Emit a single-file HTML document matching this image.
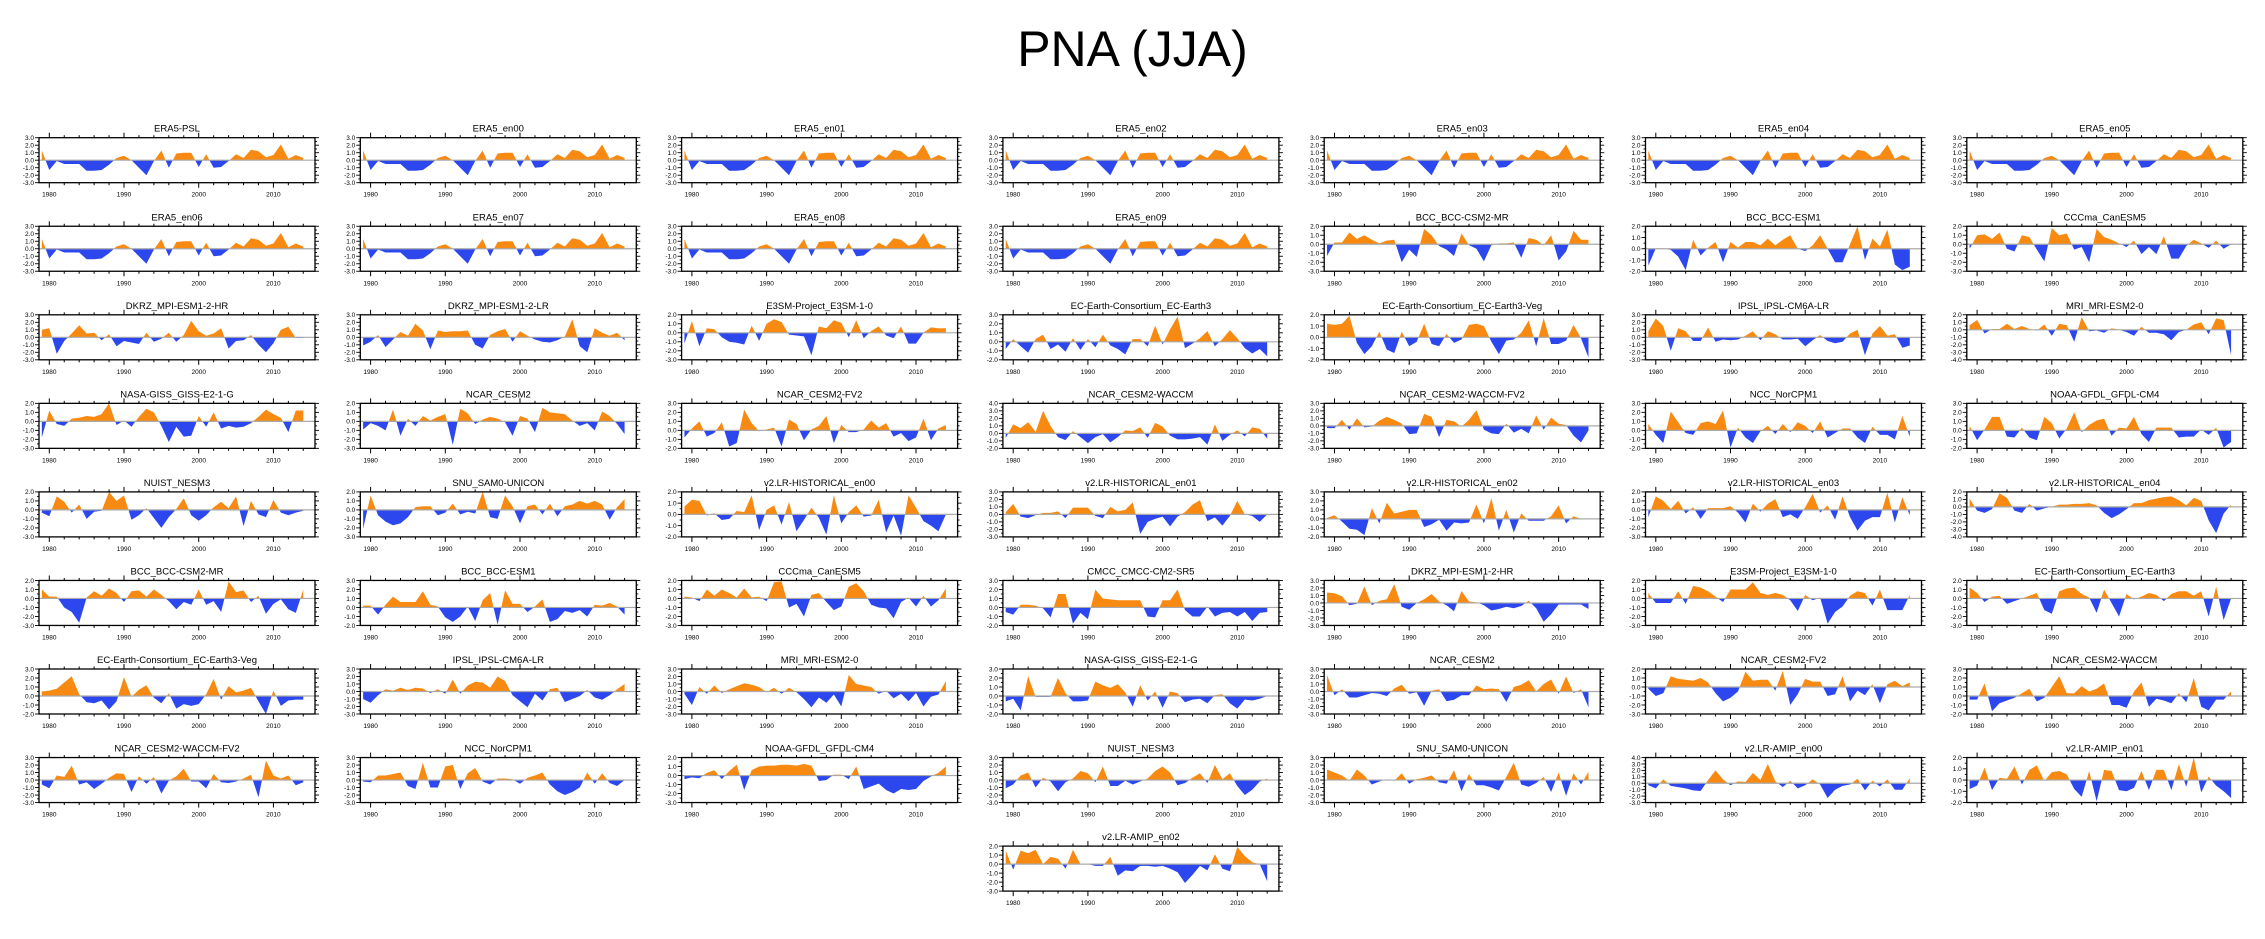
<!DOCTYPE html>
<html><head><meta charset="utf-8"><title>PNA (JJA)</title>
<style>
html,body{margin:0;padding:0;background:#fff;}
body{width:2265px;height:939px;overflow:hidden;position:relative;font-family:"Liberation Sans",sans-serif;}
#main-title{position:absolute;left:0;top:20px;width:2265px;text-align:center;font-size:50px;color:#000;}
svg{position:absolute;left:0;top:0;}
</style></head>
<body>
<div id="main-title">PNA (JJA)</div>
<svg id="chart" width="2265" height="939"></svg>
<script>
const years = [1979,1980,1981,1982,1983,1984,1985,1986,1987,1988,1989,1990,1991,1992,1993,1994,1995,1996,1997,1998,1999,2000,2001,2002,2003,2004,2005,2006,2007,2008,2009,2010,2011,2012,2013,2014];
const xTickYears = [1980,1990,2000,2010];
const titles = ["ERA5-PSL","ERA5_en00","ERA5_en01","ERA5_en02","ERA5_en03","ERA5_en04","ERA5_en05",
"ERA5_en06","ERA5_en07","ERA5_en08","ERA5_en09","BCC_BCC-CSM2-MR","BCC_BCC-ESM1","CCCma_CanESM5",
"DKRZ_MPI-ESM1-2-HR","DKRZ_MPI-ESM1-2-LR","E3SM-Project_E3SM-1-0","EC-Earth-Consortium_EC-Earth3","EC-Earth-Consortium_EC-Earth3-Veg","IPSL_IPSL-CM6A-LR","MRI_MRI-ESM2-0",
"NASA-GISS_GISS-E2-1-G","NCAR_CESM2","NCAR_CESM2-FV2","NCAR_CESM2-WACCM","NCAR_CESM2-WACCM-FV2","NCC_NorCPM1","NOAA-GFDL_GFDL-CM4",
"NUIST_NESM3","SNU_SAM0-UNICON","v2.LR-HISTORICAL_en00","v2.LR-HISTORICAL_en01","v2.LR-HISTORICAL_en02","v2.LR-HISTORICAL_en03","v2.LR-HISTORICAL_en04",
"BCC_BCC-CSM2-MR","BCC_BCC-ESM1","CCCma_CanESM5","CMCC_CMCC-CM2-SR5","DKRZ_MPI-ESM1-2-HR","E3SM-Project_E3SM-1-0","EC-Earth-Consortium_EC-Earth3",
"EC-Earth-Consortium_EC-Earth3-Veg","IPSL_IPSL-CM6A-LR","MRI_MRI-ESM2-0","NASA-GISS_GISS-E2-1-G","NCAR_CESM2","NCAR_CESM2-FV2","NCAR_CESM2-WACCM",
"NCAR_CESM2-WACCM-FV2","NCC_NorCPM1","NOAA-GFDL_GFDL-CM4","NUIST_NESM3","SNU_SAM0-UNICON","v2.LR-AMIP_en00","v2.LR-AMIP_en01",
"v2.LR-AMIP_en02"];
const yMax = [3,3,3,3,3,3,3, 3,3,3,3,2,2,2, 3,3,2,3,2,3,2, 2,2,3,4,3,3,3, 2,2,2,3,3,2,2, 2,3,2,3,3,2,2, 3,3,3,3,3,2,3, 3,3,2,3,3,4,2, 2];
const yMin = [-3,-3,-3,-3,-3,-3,-3, -3,-3,-3,-3,-3,-2,-3, -3,-3,-3,-2,-2,-3,-4, -3,-3,-2,-2,-3,-2,-2, -3,-3,-2,-3,-2,-3,-4, -3,-2,-3,-2,-3,-3,-3, -2,-3,-3,-2,-3,-3,-2, -3,-3,-3,-3,-3,-3,-2, -3];
const era5 = [1.3,-1.3,-0.1,-0.5,-0.5,-0.5,-1.4,-1.4,-1.3,-0.6,0.3,0.6,0.0,-1.0,-2.0,-0.1,1.3,-1.0,0.9,1.0,1.0,-0.9,0.8,-1.0,-0.9,-0.1,0.8,0.3,1.4,1.2,0.4,0.7,2.1,0.2,0.7,0.3];
const series = [
era5,era5,era5,era5,era5,era5,era5,era5,era5,era5,era5,
[-1.3,0.2,0.2,1.3,0.6,1.0,0.5,0.1,0.4,0.5,-2.0,-0.6,-1.4,1.7,1.0,-0.2,-0.6,-1.3,1.2,-0.1,-0.5,-1.9,-0.1,0.1,0.1,0.2,-1.5,0.7,0.5,-0.1,1.0,-1.8,-0.8,1.5,0.5,0.5],
[-1.5,0.05,0.05,-0.1,-0.7,-1.9,0.8,-0.6,0.1,0.6,-1.2,0.6,0.1,0.6,0.6,0.3,0.9,0.3,0.8,1.2,0.0,-0.2,0.3,1.2,0.0,-1.2,-1.2,0.4,2.0,-1.0,0.9,0.2,1.7,-1.4,-1.9,-1.6],
[-0.5,1.0,1.1,0.6,1.3,-0.5,-0.8,1.0,0.8,-0.6,-1.9,1.8,1.0,1.2,-0.6,-0.3,-2.0,1.7,0.8,0.5,0.1,-0.3,0.4,-1.1,-0.3,-1.1,0.9,-1.6,-1.6,-0.2,0.5,0.1,-0.4,0.4,-0.5,0.0],
[1.0,1.2,-2.2,-0.5,0.5,1.6,0.5,0.6,-0.4,0.4,-1.2,-0.5,-0.7,-0.9,0.6,-0.6,-0.2,0.6,-0.6,0.3,2.2,0.8,0.2,0.5,1.2,-1.5,-0.5,-0.4,0.3,-1.0,-2.0,-0.8,1.0,1.4,-0.1,-0.1],
[-1.1,-0.6,0.3,-1.3,-0.3,0.7,0.2,1.8,0.9,-1.6,0.9,0.7,0.8,0.8,0.9,-1.0,-1.5,0.3,0.8,1.1,-0.6,0.8,0.2,-0.3,-0.6,-0.7,-0.4,0.1,2.4,-1.2,-2.0,1.2,0.6,0.2,0.6,-0.4],
[-1.2,1.3,-1.5,0.5,0.4,-0.5,-1.0,-1.1,-1.3,0.8,-0.9,1.0,1.5,1.2,-0.2,-0.3,-0.4,-2.5,0.7,0.5,1.4,1.1,-0.5,1.4,-0.6,0.2,0.7,-0.3,-0.6,0.7,-1.2,-1.2,0.0,0.6,0.5,0.5],
[-0.8,0.3,-0.5,-1.2,0.3,0.8,-0.8,-0.3,-1.1,0.4,-0.9,0.3,-0.6,0.8,-0.4,-0.8,-1.4,0.3,0.3,-0.5,1.8,-0.3,1.4,2.8,-0.7,-0.2,0.4,1.2,-0.5,0.3,1.3,0.4,-0.7,-1.3,-0.8,-1.6],
[1.2,1.1,1.2,1.9,-0.5,-1.5,-0.8,0.5,-1.1,-1.4,0.5,-0.8,-0.4,1.2,-0.6,-0.8,0.3,-0.5,-0.2,1.1,1.2,1.0,-0.4,-1.5,-0.3,-0.2,0.4,1.5,-0.8,1.7,-0.6,-0.6,-0.3,1.1,-0.1,-1.8],
[0.8,2.5,1.5,-1.8,1.2,0.8,-0.5,-0.5,1.3,-0.6,-0.3,-0.4,-0.3,0.2,0.8,-0.4,0.8,0.4,-0.3,-0.3,-0.2,-1.2,-0.4,0.3,-0.5,-0.8,-0.6,0.5,1.0,-2.4,0.5,1.5,0.2,0.4,-1.4,-1.1],
[0.6,1.3,-0.5,0.1,0.1,0.8,0.1,0.5,0.1,-0.1,0.7,-0.8,0.8,0.6,-1.6,1.7,-0.2,-0.1,-0.4,0.2,0.0,-0.3,-0.8,0.4,-0.4,-0.4,-0.6,-1.4,-0.3,0.0,0.7,1.0,-0.6,1.5,1.3,-3.4],
[-1.8,1.2,-0.3,-0.5,0.3,0.4,0.6,0.5,0.8,2.0,-0.4,0.1,-0.6,0.5,1.4,1.0,-0.5,-2.3,-0.6,-1.7,-1.6,0.6,-0.6,1.0,-0.8,-0.5,-0.7,-0.6,-0.2,0.5,1.3,0.8,0.4,-1.2,1.2,1.2],
[-0.9,-0.2,-0.5,-1.0,1.3,-1.6,0.3,-0.5,0.6,0.1,0.5,0.8,-2.6,1.4,0.9,-0.3,0.2,0.5,0.3,-0.1,-1.6,0.6,0.3,-1.2,1.5,1.0,0.9,0.8,0.1,-0.5,-0.2,-1.0,1.1,0.6,-0.3,-1.4],
[-0.8,0.2,1.0,-0.7,-0.3,0.9,-1.8,-1.4,2.3,0.8,-0.1,0.1,0.3,-1.8,1.2,0.7,-1.1,0.1,0.5,1.6,-1.4,0.6,-0.2,-0.2,0.1,1.1,0.3,0.8,-0.7,-0.3,-1.2,-0.8,1.3,-1.1,0.2,0.6],
[-0.6,1.2,0.7,1.5,0.2,3.0,1.0,-0.5,-0.9,0.3,-0.5,-1.3,-0.5,-0.1,-1.2,-0.5,0.4,0.3,0.8,-0.6,1.4,0.9,-0.3,-0.8,-0.8,-0.7,-0.5,-1.5,1.2,-1.0,-0.2,0.4,-0.4,0.8,0.6,-0.7],
[-0.3,-0.3,0.8,-0.5,1.0,-0.2,-0.1,0.7,1.2,0.8,0.3,-1.1,-1.0,1.6,1.2,-1.5,0.8,0.6,-0.1,0.8,2.1,-0.5,-1.0,-1.1,0.3,-0.9,-0.4,-1.0,1.4,-0.5,1.1,0.3,0.1,-1.3,-2.2,-0.6],
[0.7,-0.5,-1.4,2.1,0.9,-0.3,-0.5,0.8,1.0,0.7,2.2,-1.9,0.3,-0.8,-1.4,-0.1,0.5,-0.4,0.7,-0.2,0.9,0.5,-0.3,1.0,-0.8,-0.3,0.2,0.2,-0.8,-1.4,0.4,-0.5,-0.5,-1.0,1.6,-0.7],
[0.5,-1.1,0.1,1.5,1.5,-0.7,-0.8,0.3,-0.8,-1.1,1.5,0.8,-0.9,0.2,2.0,-0.2,0.6,1.1,1.3,-0.6,0.3,0.2,1.5,-0.4,-1.3,0.3,0.3,0.3,-0.8,-0.7,-0.7,0.1,-0.5,0.3,-1.9,-1.3],
[-0.3,-0.7,1.5,0.9,-0.3,0.6,-1.0,-0.2,-0.1,2.0,1.0,1.6,-1.1,-0.6,0.2,-0.9,-2.0,-0.8,0.1,1.3,-0.6,-1.2,-0.6,0.3,0.9,0.2,1.5,-1.8,1.0,-0.5,-0.8,1.1,-0.3,-0.6,-0.3,-0.1],
[-2.1,1.6,-0.6,-1.3,-1.7,-1.5,-0.8,0.3,0.4,0.4,-0.6,-0.3,0.7,-0.5,-0.2,-0.4,2.0,-0.8,-1.0,1.6,0.4,-1.5,0.4,0.6,-0.5,0.7,-0.7,0.4,0.6,1.0,0.7,1.0,0.6,-1.1,0.3,1.2],
[0.7,1.3,1.2,-0.1,0.1,-0.5,-0.4,0.3,0.2,1.7,-1.4,0.4,0.8,-0.9,1.1,-1.5,-0.5,0.6,-0.3,-1.8,1.7,-0.8,0.2,0.8,-0.2,-0.1,1.3,-1.6,-0.1,-1.9,1.7,0.6,-0.6,-1.0,-1.5,0.0],
[0.3,1.4,-0.3,-0.5,-0.1,0.2,0.2,0.4,-0.5,0.9,0.9,0.9,-0.2,-0.5,1.0,0.4,0.6,1.6,-2.6,-1.0,-0.6,-0.3,-1.6,-0.3,0.3,1.3,1.9,-0.9,-0.4,-1.5,-0.2,1.8,0.0,-0.2,-1.0,0.0],
[0.1,0.4,-0.3,-1.1,-1.2,-1.8,1.2,-0.5,1.8,0.6,0.8,1.0,1.0,-0.9,-0.6,-0.1,-1.3,-0.4,-0.5,-0.4,1.6,-0.5,2.3,-1.3,1.0,-1.5,0.6,-0.2,-0.2,-0.2,0.3,1.5,-0.5,0.3,0.0,0.0],
[-0.8,1.5,1.0,0.1,1.0,-0.4,0.3,-1.0,0.2,0.2,0.2,0.4,-0.3,-1.4,0.7,-0.2,0.7,1.2,-0.8,-0.5,-1.0,0.3,1.8,-0.3,0.5,-1.1,1.5,-0.8,-2.3,-1.2,-0.8,-0.8,1.9,-1.4,1.4,-0.6],
[1.1,-0.5,-0.8,-0.3,1.8,1.2,-0.5,-0.8,0.4,-0.5,-0.2,0.0,0.3,0.3,0.4,0.4,0.5,0.2,-0.8,-1.5,-1.0,-0.3,0.5,0.5,0.9,1.1,1.3,1.4,0.9,0.2,1.2,0.8,-1.8,-3.5,-0.9,0.3],
[1.0,0.2,0.2,-1.0,-1.5,-2.7,0.1,0.8,0.3,1.1,0.6,-0.4,0.8,0.9,0.2,1.0,0.4,-0.3,-1.2,-0.4,-0.7,1.0,-0.7,-0.3,-1.5,1.9,0.7,0.9,-0.4,0.3,-1.7,-0.6,-0.1,-1.2,-1.6,1.0],
[0.2,0.2,-0.8,0.3,1.2,0.6,0.6,0.6,1.8,0.3,0.1,-1.1,-1.6,-1.0,0.1,-1.5,0.8,1.6,-1.9,1.9,0.4,0.4,-0.5,0.1,0.9,-1.6,-1.3,-0.4,-0.6,-0.3,-1.0,0.3,0.2,0.5,0.1,-0.8],
[0.2,0.1,-0.3,1.0,0.3,1.0,0.6,0.1,1.1,0.1,0.2,-0.3,1.8,1.9,-1.0,-0.6,-2.0,0.4,0.6,-0.4,-1.3,-0.9,1.3,1.7,0.8,-0.7,-1.0,-1.1,-2.2,-0.4,0.1,-0.9,0.3,-0.9,-0.2,1.1],
[-0.5,-0.8,0.3,0.3,0.2,-0.1,-1.1,1.5,1.5,-1.8,-0.6,-1.3,2.0,1.0,0.9,0.8,0.8,0.8,0.8,-1.0,-1.1,0.8,0.8,2.0,-0.3,-1.0,-1.0,0.1,-1.0,-0.6,-0.5,-1.0,-0.5,-1.5,-0.6,-0.5],
[1.4,1.3,0.9,-0.3,-0.1,2.2,-0.3,0.3,0.5,2.5,-0.5,-0.9,0.0,0.5,1.2,0.2,-0.3,-1.1,1.6,0.2,0.1,-0.3,-1.0,-0.8,-0.5,-0.7,-0.4,0.3,-0.7,-2.5,-1.5,-0.2,-0.2,-0.2,-0.2,-0.8],
[0.6,-0.5,-0.5,-0.5,0.8,-0.6,1.4,1.2,0.8,0.2,-0.4,1.0,1.0,1.0,1.8,0.6,0.4,0.6,0.4,-0.2,-1.4,0.4,-0.2,0.1,-2.8,-1.5,-0.9,0.3,0.8,0.6,-0.8,1.0,-1.3,-1.3,-1.3,0.4],
[1.2,0.6,-0.4,0.2,0.3,-0.6,-0.3,0.0,0.3,0.6,-1.3,-1.7,0.8,1.1,1.2,0.5,0.1,-1.6,1.0,-0.5,-2.0,0.5,-0.1,0.2,0.6,0.4,-0.3,0.5,0.8,0.8,0.3,0.8,-2.0,1.3,-2.4,0.0],
[0.5,0.6,0.8,1.5,2.2,0.2,-0.7,-0.8,-0.5,-1.5,-0.6,2.1,-0.1,0.7,1.2,-0.2,-0.8,0.3,-1.4,-0.9,-1.1,-0.9,0.2,1.9,-0.4,1.1,0.4,0.6,0.9,-0.6,-2.0,0.6,-1.1,-0.5,-0.4,-0.4],
[-1.0,-1.5,-0.5,0.3,0.1,0.5,0.2,0.5,0.4,-0.2,0.3,-0.3,1.6,-0.3,0.8,1.3,1.2,0.5,2.0,1.4,-0.5,-1.3,-2.1,-0.3,-1.2,0.3,0.5,-1.4,-1.0,-0.6,0.2,-0.8,-1.1,-0.5,0.3,1.0],
[-0.3,-1.8,0.6,-0.3,0.8,-0.2,0.3,0.7,1.1,0.9,0.6,-0.1,0.5,-0.3,0.5,-0.1,-1.0,-2.1,-0.8,-1.5,-0.4,-2.0,2.2,1.0,0.8,0.6,-0.3,0.1,-0.9,-0.3,-1.3,-0.2,-2.0,-0.7,-0.4,1.4],
[-0.6,-0.3,-1.6,2.2,-0.1,-0.1,-0.1,2.0,0.3,-0.6,-0.6,-0.5,1.6,1.2,0.9,1.3,0.4,-1.2,1.2,-0.5,0.5,-1.3,0.5,0.3,-0.7,-0.4,-0.3,-0.8,0.1,0.2,-0.8,-1.4,-0.4,-0.5,-0.3,0.0],
[2.2,-0.5,0.3,-0.8,-0.8,-0.5,-0.2,-0.3,-0.6,0.4,0.9,-0.3,-0.1,-1.9,0.1,0.3,-1.3,-1.1,-0.5,-0.5,0.8,0.3,0.4,0.3,-1.4,0.6,0.9,1.5,0.0,1.0,1.6,-0.3,2.0,-0.2,0.3,-2.1],
[-0.2,-1.0,-0.7,1.2,0.9,0.8,0.7,1.0,0.5,-0.7,-1.6,-1.2,-0.5,1.7,0.7,0.8,0.8,-0.4,1.8,-2.0,-0.8,0.9,0.6,0.6,-1.0,-0.8,1.2,-1.6,-0.4,-0.9,0.3,-1.8,0.3,0.7,0.1,0.5],
[-0.4,-0.4,1.4,-1.7,-0.8,-0.5,-0.2,0.3,0.8,-0.6,-0.2,1.0,2.2,0.3,0.3,1.1,0.5,0.8,1.4,-1.0,-1.0,-1.3,0.5,1.5,-1.2,-0.3,-0.5,-0.8,0.3,-0.7,2.0,-1.2,-1.6,-0.4,-0.4,0.5],
[-0.6,-1.1,0.6,0.4,1.9,-0.6,-0.3,-1.2,-0.5,0.3,0.9,0.8,-1.6,0.5,-0.5,0.4,-1.8,-0.1,0.5,1.5,-0.2,-0.2,-1.1,0.8,-0.3,-0.4,-0.2,0.2,0.7,-2.3,2.6,0.6,0.2,0.6,-0.7,-0.3],
[-0.2,-0.3,0.6,0.6,0.8,1.0,-0.8,-1.2,2.3,-1.0,-1.0,1.8,2.0,-1.2,0.9,1.6,-0.2,-0.6,0.2,0.2,0.1,-0.5,0.3,0.6,1.0,-0.6,-1.5,-2.0,-1.6,-1.0,1.0,-0.5,0.9,-0.4,-0.8,0.0],
[-0.4,-0.2,-0.3,0.3,0.6,-0.4,0.5,1.2,-1.6,0.6,1.0,1.1,1.1,1.2,1.2,1.1,1.3,1.1,-0.6,-0.5,0.1,0.1,-0.4,1.0,-1.5,-1.2,-0.9,-1.6,-2.0,-1.5,-1.6,-1.5,-0.6,-0.1,0.3,1.0],
[-1.1,-0.6,0.6,1.0,-1.0,0.3,-0.2,-1.5,-0.3,0.2,1.2,0.9,-0.3,1.8,-0.8,-0.8,-0.1,-0.6,-0.2,0.2,1.2,1.8,1.0,-0.7,-0.4,0.3,0.9,-0.4,2.0,0.1,0.9,-0.8,-2.0,-1.3,-0.2,0.2],
[1.4,1.0,0.6,-0.1,1.4,0.6,-0.6,-0.2,0.1,-0.1,0.9,-0.5,0.1,0.3,0.6,-0.3,-0.5,1.3,-1.5,0.8,-0.7,-0.7,-1.0,-1.4,0.4,2.3,-0.6,-0.9,-0.4,0.4,-1.6,1.0,-2.1,0.9,-0.6,1.1],
[-0.3,-0.8,0.6,-0.4,-0.6,-0.8,-1.1,-1.2,0.5,2.0,0.6,-0.3,0.3,0.2,1.6,0.5,3.0,0.3,-0.6,0.4,-0.8,-0.3,0.6,-0.2,-2.3,-1.0,-0.4,-0.2,0.7,-1.1,0.4,-0.5,0.6,-1.0,-1.0,0.8],
[-0.8,-0.5,1.1,-0.9,0.2,0.1,1.2,-0.4,0.9,1.3,-0.1,0.7,0.8,0.5,-0.8,-1.5,0.8,-1.9,0.9,0.8,-0.9,-1.0,-0.7,0.8,-0.9,0.9,0.9,-0.9,1.4,-0.6,2.0,-1.1,0.3,-0.5,-1.0,-1.6],
[1.5,-0.6,1.5,1.2,1.6,0.0,0.8,0.6,-0.5,1.6,0.0,0.0,-0.2,-0.2,0.8,-1.3,-0.7,-0.8,-0.2,-0.2,-0.3,-0.2,-0.5,-0.9,-2.1,-1.2,-0.2,-0.7,1.1,-0.5,-0.8,1.9,0.9,0.2,0.0,-1.9]
];

const NS = "http://www.w3.org/2000/svg";
const svg = document.getElementById('chart');
const BOX_W = 276, BOX_H = 45, COL_P = 321.3, ROW_P = 88.55, LEFT0 = 39, TOP0 = 137.7;
const POS = "#f88a12", NEG = "#2c47ee";
function mk(tag, attrs, parent){ const e=document.createElementNS(NS,tag); for(const k in attrs) e.setAttribute(k,attrs[k]); parent.appendChild(e); return e; }
function slug(s){ return s.toLowerCase().replace(/[^a-z0-9]+/g,'-').replace(/^-|-$/g,''); }

titles.forEach((title, i) => {
  let r = Math.floor(i/7), c = i%7;
  if (i === 56) { r = 8; c = 3; }
  const L = LEFT0 + c*COL_P, T = TOP0 + r*ROW_P;
  const ymax = yMax[i], ymin = yMin[i], vals = series[i];
  const xs = yr => L + 10.3 + (yr - 1980) * (BOX_W - 10.3 - 0.5) / 35.5;
  const ys = v => T + (ymax - v) / (ymax - ymin) * BOX_H;
  const g = mk('g', {}, svg);
  
  

  const t = mk('text', {x: L + BOX_W/2, y: T - 6, 'text-anchor': 'middle', 'font-size': 9.5, fill: '#000', 'font-family': '"Liberation Sans", sans-serif'}, g);
  t.textContent = title;
  
  

  // points with zero crossings
  const pts = [];
  for (let k = 0; k < vals.length; k++) {
    const x = xs(years[k]), v = vals[k];
    if (k > 0) {
      const pv = vals[k-1];
      if ((pv > 0 && v < 0) || (pv < 0 && v > 0)) {
        const f = pv / (pv - v);
        pts.push([xs(years[k-1]) + f * (x - xs(years[k-1])), 0]);
      }
    }
    pts.push([x, v]);
  }
  const y0 = ys(0);
  const posD = 'M' + pts[0][0] + ',' + y0 + ' ' + pts.map(p => 'L' + p[0].toFixed(2) + ',' + ys(Math.max(p[1],0)).toFixed(2)).join(' ') + ' L' + pts[pts.length-1][0] + ',' + y0 + 'Z';
  const negD = 'M' + pts[0][0] + ',' + y0 + ' ' + pts.map(p => 'L' + p[0].toFixed(2) + ',' + ys(Math.min(p[1],0)).toFixed(2)).join(' ') + ' L' + pts[pts.length-1][0] + ',' + y0 + 'Z';
  const pp = mk('path', {d: posD, fill: POS, stroke: 'none'}, g);
  
  
  const np = mk('path', {d: negD, fill: NEG, stroke: 'none'}, g);
  
  
  const zl = mk('line', {x1: L, x2: L + BOX_W, y1: y0, y2: y0, stroke: '#aaaaaa', 'stroke-width': 1.2}, g);
  
  

  const box = mk('rect', {x: L, y: T, width: BOX_W, height: BOX_H, fill: 'none', stroke: '#000', 'stroke-width': 1.3}, g);
  
  

  // x ticks
  for (let yr = 1979; yr <= 2015; yr++) {
    const major = xTickYears.includes(yr);
    if (!major && yr % 2) continue;
    const len = major ? 5 : 2.5, x = xs(yr);
    mk('line', {x1: x, x2: x, y1: T, y2: T - len, stroke: '#000', 'stroke-width': 1}, g);
    mk('line', {x1: x, x2: x, y1: T + BOX_H, y2: T + BOX_H + len, stroke: '#000', 'stroke-width': 1}, g);
  }
  xTickYears.forEach(yr => {
    const tl = mk('text', {x: xs(yr), y: T + BOX_H + 14, 'text-anchor': 'middle', 'font-size': 6.5, fill: '#000', 'font-family': '"Liberation Sans", sans-serif'}, g);
    tl.textContent = yr;
    
    
  });
  // y ticks
  for (let v = ymin; v <= ymax + 1e-6; v += 0.5) {
    const major = Math.abs(v - Math.round(v)) < 1e-6, len = major ? 4 : 2, y = ys(v);
    mk('line', {x1: L, x2: L - len, y1: y, y2: y, stroke: '#000', 'stroke-width': 0.9}, g);
    mk('line', {x1: L + BOX_W, x2: L + BOX_W + len, y1: y, y2: y, stroke: '#000', 'stroke-width': 0.9}, g);
    if (major) {
      const yl = mk('text', {x: L - 5, y: y + 2.3, 'text-anchor': 'end', 'font-size': 6.5, fill: '#000', 'font-family': '"Liberation Sans", sans-serif'}, g);
      yl.textContent = v.toFixed(1);
      
      
    }
  }
});
</script>
</body></html>
